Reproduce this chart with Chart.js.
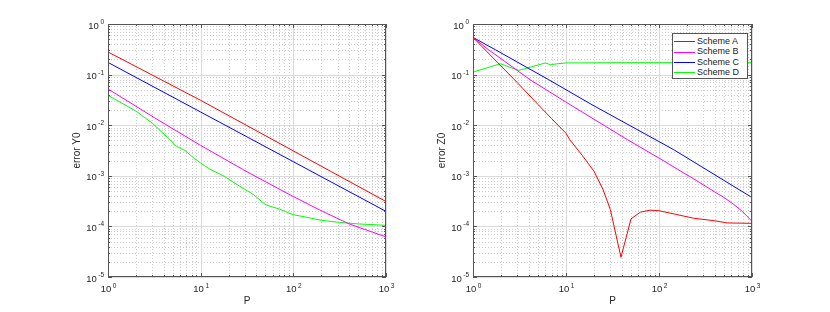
<!DOCTYPE html>
<html>
<head>
<meta charset="utf-8">
<script src="https://cdn.jsdelivr.net/npm/chart.js@4/dist/chart.umd.min.js"></script>
<style>
  body{margin:0;background:#fff;}
  #wrap{position:relative;width:830px;height:312px;overflow:hidden;}
  canvas{position:absolute;top:0;}
  #c1{left:0;}
  #c2{left:415px;}
  .legend{position:absolute;left:672px;top:33px;width:76px;height:46px;border:1px solid #555;background:#fff;
    font:9px "Liberation Sans",Arial,sans-serif;color:#222;padding-top:2px;box-sizing:border-box;}
  .legend div{height:10.4px;line-height:10.4px;white-space:nowrap;}
  .legend span{display:inline-block;width:21px;height:0;border-top:1px solid;vertical-align:middle;margin:0 2px 0 1px;}
</style>
</head>
<body>
<div id="wrap">
  <canvas id="c1" width="415" height="312"></canvas>
  <canvas id="c2" width="415" height="312"></canvas>
  <div class="legend" id="legend"></div>
</div>
<script>
const schemes = ["Scheme A", "Scheme B", "Scheme C", "Scheme D"];
const colors = ["#ff0000", "#ff00ff", "#0000ff", "#00ff00"];

const xTicks = [1, 10, 100, 1000];
const yTicks = [1e-5, 1e-4, 1e-3, 1e-2, 1e-1, 1];

// left panel: error Y0
const pY_A = [1, 10, 100, 1000];
const errY_A = [0.28, 0.031, 0.0031, 0.00031];
const pY_B = [1, 3.16, 10, 31.6, 100, 200, 400, 1000];
const errY_B = [0.052, 0.0141, 0.00398, 0.0012, 0.000389, 0.000204, 0.000112, 0.000062];
const pY_C = [1, 10, 100, 1000];
const errY_C = [0.174, 0.0182, 0.0019, 0.000198];
const pY_D = [1, 1.4, 2, 3, 4.7, 5.5, 6.8, 8.3, 10, 12.6, 18, 25, 37, 50, 71, 100, 141, 200, 316, 500, 1000];
const errY_D = [0.0389, 0.0275, 0.0191, 0.011, 0.00513, 0.0038, 0.00316, 0.00229, 0.00178, 0.00135, 0.000977,
  0.00066, 0.000427, 0.000269, 0.000219, 0.00017, 0.000151, 0.000132, 0.00012, 0.000112, 0.000105];

// right panel: error Z0
const pZ_A = [1, 2, 3, 5, 7, 10, 11, 15, 20, 25, 30, 39, 50, 63, 80, 100, 150, 235, 400, 540, 1000];
const errZ_A = [0.543, 0.148, 0.0692, 0.0257, 0.0135, 0.00692, 0.00513, 0.00251, 0.00123, 0.000537, 0.000214,
  0.0000245, 0.000141, 0.000191, 0.000209, 0.000204, 0.000174, 0.000145, 0.000129, 0.000117, 0.000115];
const pZ_B = [1, 1.47, 4.1, 11.1, 45.9, 80.5, 100, 158, 251, 398, 501, 631, 794, 1000];
const errZ_B = [0.543, 0.31, 0.0794, 0.0254, 0.00516, 0.00282, 0.00224, 0.00135, 0.000813, 0.000479, 0.000372,
  0.000275, 0.000195, 0.000126];
const pZ_C = [1, 1.74, 6.5, 19, 144, 1000];
const errZ_C = [0.543, 0.31, 0.0794, 0.0254, 0.00328, 0.000372];
const pZ_D = [1, 1.97, 3.1, 6.0, 6.8, 8.2, 10, 20, 50, 100, 1000];
const errZ_D = [0.112, 0.164, 0.121, 0.170, 0.157, 0.164, 0.170, 0.171, 0.172, 0.172, 0.172];

const FONT = "'Liberation Sans', Arial, sans-serif";
Chart.defaults.font.family = FONT;
Chart.defaults.color = "#262626";

function minors(list){
  const out = [];
  for(let i = 0; i < list.length - 1; i++){
    for(let k = 2; k <= 9; k++) out.push(list[i] * k);
  }
  return out;
}

// "10" with a raised exponent, like octave draws it
function powText(ctx, v, px, py, align){
  const base = "10", exp = String(Math.round(Math.log10(v)));
  ctx.font = "9.5px " + FONT;
  const wb = ctx.measureText(base).width;
  ctx.font = "6.5px " + FONT;
  const we = ctx.measureText(exp).width;
  const gap = 1.5;
  const total = wb + gap + we;
  const x0 = align === "right" ? px - total : px - total / 2;
  ctx.textAlign = "left";
  ctx.textBaseline = "alphabetic";
  ctx.font = "9.5px " + FONT;
  ctx.fillText(base, x0, py);
  ctx.font = "6.5px " + FONT;
  ctx.fillText(exp, x0 + wb + gap, py - 4.5);
}

// octave-like box: dotted minor grid, solid major grid, inward ticks on all sides
const boxPlugin = {
  id: "octaveBox",
  beforeDatasetsDraw(chart){
    const {ctx, chartArea: a, scales: {x, y}} = chart;
    ctx.save();
    ctx.lineWidth = 1;
    const vline = px => { ctx.beginPath(); ctx.moveTo(px, a.top); ctx.lineTo(px, a.bottom); ctx.stroke(); };
    const hline = py => { ctx.beginPath(); ctx.moveTo(a.left, py); ctx.lineTo(a.right, py); ctx.stroke(); };
    ctx.setLineDash([1, 2]);
    ctx.strokeStyle = "#cdcdcd";
    minors(xTicks).forEach(v => vline(Math.round(x.getPixelForValue(v)) + 0.5));
    minors(yTicks).forEach(v => hline(Math.round(y.getPixelForValue(v)) + 0.5));
    ctx.setLineDash([]);
    ctx.strokeStyle = "#dadada";
    xTicks.forEach(v => vline(Math.round(x.getPixelForValue(v)) + 0.5));
    yTicks.forEach(v => hline(Math.round(y.getPixelForValue(v)) + 0.5));
    ctx.restore();
  },
  afterDatasetsDraw(chart){
    const {ctx, chartArea: a, scales: {x, y}} = chart;
    ctx.save();
    ctx.strokeStyle = "#555";
    ctx.lineWidth = 1;
    const tick = (v, len, horiz) => {
      ctx.beginPath();
      if(horiz){
        const px = Math.round(x.getPixelForValue(v)) + 0.5;
        ctx.moveTo(px, a.bottom); ctx.lineTo(px, a.bottom - len);
        ctx.moveTo(px, a.top); ctx.lineTo(px, a.top + len);
      } else {
        const py = Math.round(y.getPixelForValue(v)) + 0.5;
        ctx.moveTo(a.left, py); ctx.lineTo(a.left + len, py);
        ctx.moveTo(a.right, py); ctx.lineTo(a.right - len, py);
      }
      ctx.stroke();
    };
    xTicks.forEach(v => tick(v, 4, true));
    minors(xTicks).forEach(v => tick(v, 2, true));
    yTicks.forEach(v => tick(v, 4, false));
    minors(yTicks).forEach(v => tick(v, 2, false));
    ctx.strokeRect(a.left + 0.5, a.top + 0.5, a.right - a.left - 1, a.bottom - a.top - 1);

    ctx.fillStyle = "#262626";
    xTicks.forEach(v => powText(ctx, v, x.getPixelForValue(v) + 0.5, a.bottom + 15, "center"));
    yTicks.forEach(v => powText(ctx, v, a.left - 4, y.getPixelForValue(v) + 4.5, "right"));
    ctx.restore();
  }
};

function makeSets(ps, errs){
  return schemes.map((name, i) => ({
    label: name,
    data: ps[i].map((p, j) => ({x: p, y: errs[i][j]})),
    borderColor: colors[i],
    backgroundColor: colors[i],
    borderWidth: 1,
    pointRadius: 0,
    tension: 0,
    fill: false
  }));
}

function makeChart(id, ps, errs, yTitle, pad){
  return new Chart(document.getElementById(id), {
    type: "line",
    data: {datasets: makeSets(ps, errs)},
    options: {
      responsive: false,
      animation: false,
      layout: {padding: pad},
      plugins: {legend: {display: false}, tooltip: {enabled: false}},
      scales: {
        x: {
          type: "logarithmic", min: 1, max: 1000,
          afterBuildTicks: s => { s.ticks = xTicks.map(v => ({value: v})); },
          afterFit: s => { s.height = 35; },
          grid: {display: false},
          border: {display: false},
          ticks: {display: false},
          title: {display: true, text: "P", font: {size: 10}, padding: {top: 0, bottom: 5}}
        },
        y: {
          type: "logarithmic", min: 1e-5, max: 1,
          afterBuildTicks: s => { s.ticks = yTicks.map(v => ({value: v})); },
          afterFit: s => { s.width = 50; },
          grid: {display: false},
          border: {display: false},
          ticks: {display: false},
          title: {display: true, text: yTitle, font: {size: 10}, padding: {top: 13, bottom: 0}}
        }
      }
    },
    plugins: [boxPlugin]
  });
}

makeChart("c1", [pY_A, pY_B, pY_C, pY_D], [errY_A, errY_B, errY_C, errY_D], "error Y0",
  {left: 58, right: 29, top: 24, bottom: 0});
makeChart("c2", [pZ_A, pZ_B, pZ_C, pZ_D], [errZ_A, errZ_B, errZ_C, errZ_D], "error Z0",
  {left: 8, right: 78, top: 24, bottom: 0});

document.getElementById("legend").innerHTML = schemes.map((name, i) =>
  `<div><span style="border-color:${colors[i]}"></span>${name}</div>`).join("");
</script>
</body>
</html>
